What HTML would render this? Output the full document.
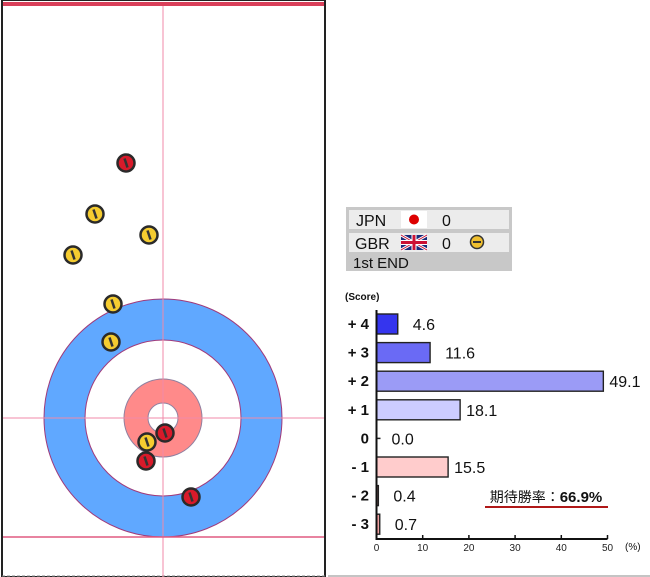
<!DOCTYPE html>
<html><head><meta charset="utf-8">
<style>
body{margin:0;width:650px;height:577px;overflow:hidden;background:#fff;font-family:"Liberation Sans","Noto Sans CJK JP",sans-serif;}
svg{position:absolute;left:0;top:0;}
</style></head>
<body>
<svg width="650" height="577">
  <g>
    <rect x="2" y="0" width="323" height="577" fill="#fff" stroke="#222" stroke-width="2"/>
    <line x1="2" y1="576" x2="325" y2="576" stroke="#888" stroke-dasharray="3,2"/>
    <line x1="328" y1="576" x2="650" y2="576" stroke="#888"/>
    <rect x="3" y="2" width="321" height="4" fill="#d9405a"/>
    <circle cx="163" cy="418" r="119" fill="#60a8ff" stroke="#a03a7a" stroke-width="1"/>
    <circle cx="163" cy="418" r="78" fill="#fff" stroke="#a03a7a" stroke-width="1"/>
    <circle cx="163" cy="418" r="39" fill="#ff8a8a" stroke="#9080a0" stroke-width="1"/>
    <circle cx="163" cy="418" r="15" fill="#fff" stroke="#9080a0" stroke-width="1"/>
    <line x1="163" y1="6" x2="163" y2="577" stroke="#f08aa8" stroke-width="1"/>
    <line x1="3" y1="418" x2="324" y2="418" stroke="#f08aa8" stroke-width="1"/>
    <line x1="3" y1="537" x2="324" y2="537" stroke="#e05a80" stroke-width="1.5"/>
    <g id="stones"></g>
  </g>
  <g>
    <rect x="346" y="207" width="166" height="64" fill="#c8c8c8"/>
    <rect x="349" y="210" width="160" height="19" fill="#ececec"/>
    <rect x="349" y="233" width="160" height="19" fill="#ececec"/>
    <text x="356" y="226" font-size="16" fill="#111">JPN</text>
    <rect x="401" y="211" width="26" height="17" fill="#fff"/>
    <circle cx="414" cy="219.5" r="5" fill="#dd0000"/>
    <text x="442" y="226" font-size="16" fill="#111">0</text>
    <text x="355" y="249" font-size="16" fill="#111">GBR</text>
    <g>
      <rect x="401" y="235" width="26" height="15" fill="#1a2a7a"/>
      <path d="M401,235L427,250M427,235L401,250" stroke="#fff" stroke-width="3"/>
      <path d="M401,235L427,250M427,235L401,250" stroke="#cc1133" stroke-width="1"/>
      <path d="M414,235V250M401,242.5H427" stroke="#fff" stroke-width="5"/>
      <path d="M414,235V250M401,242.5H427" stroke="#cc1133" stroke-width="3"/>
    </g>
    <text x="442" y="249" font-size="16" fill="#111">0</text>
    <circle cx="477" cy="242" r="6.5" fill="#f0c030" stroke="#333" stroke-width="1.5"/>
    <line x1="473" y1="242" x2="481" y2="242" stroke="#333" stroke-width="2"/>
    <text x="353" y="268" font-size="15" fill="#111">1st END</text>
  </g>
  <g id="chart">
    <text x="345" y="300" font-size="10" font-weight="bold" fill="#111">(Score)</text>
    <text x="625" y="550" font-size="10" fill="#111">(%)</text>
    <text x="546" y="502" font-size="14" text-anchor="middle" fill="#111">期待勝率：<tspan font-weight="bold" font-size="15">66.9%</tspan></text>
    <line x1="485" y1="507" x2="608" y2="507" stroke="#b01818" stroke-width="2"/>
  </g>
</svg>
<script>
const stoneX=[126,95,149,73,113,111,165,147,146,191];
const stoneY=[163,214,235,255,304,342,433,442,461,497];
const stoneTeam=["red","yellow","yellow","yellow","yellow","yellow","red","yellow","red","red"];
const categories=["+ 4","+ 3","+ 2","+ 1","0","- 1","- 2","- 3"];
const values=[4.6,11.6,49.1,18.1,0.0,15.5,0.4,0.7];
const valueLabels=["4.6","11.6","49.1","18.1","0.0","15.5","0.4","0.7"];
const barColors=["#3535ee","#6a6af5","#9b9bf6","#ccccff","#fff","#ffcccc","#f0a0a0","#f0a0a0"];
const xTicks=[0,10,20,30,40,50];
const NS="http://www.w3.org/2000/svg";
function mk(t,a,p){const e=document.createElementNS(NS,t);for(const k in a)e.setAttribute(k,a[k]);p.appendChild(e);return e;}
const sg=document.getElementById('stones');
stoneX.forEach((x,i)=>{const y=stoneY[i];
  const g=mk('g',{},sg);
  
  
  mk('circle',{cx:x,cy:y,r:8.5,fill:stoneTeam[i]=="red"?"#d81a2a":"#f5cc30",stroke:"#2a2a2a","stroke-width":2.5},g);
  mk('line',{x1:x-1.5,y1:y-4.5,x2:x+1.5,y2:y+4.5,stroke:"#333","stroke-width":2.5},g);
});
const ch=document.getElementById('chart');
const x0=376.5,sc=4.62,yTop=324,step=28.6,bh=20,base=539;
const xs=v=>x0+v*sc, ys=i=>yTop+i*step;
categories.forEach((c,i)=>{const y=ys(i);
  const t=mk('text',{x:369,y:y+5,"font-size":15,"font-weight":"bold","text-anchor":"end",fill:"#111"},ch);t.textContent=c;
  
  
  if(values[i]>0){const r=mk('rect',{x:x0,y:y-bh/2,width:values[i]*sc,height:bh,fill:barColors[i],stroke:"#222","stroke-width":1.4},ch);
    
    }
  else mk('line',{x1:x0,y1:y,x2:x0+4,y2:y,stroke:"#222","stroke-width":1.5},ch);
  const lx=values[i]>15?xs(values[i])+6:Math.max(xs(values[i]),x0)+15;
  const v=mk('text',{x:lx,y:y+6,"font-size":16,fill:"#111"},ch);v.textContent=valueLabels[i];
  
  
});
const ax=mk('path',{d:`M${x0},${310}V${base}H${xs(50)}`,fill:"none",stroke:"#111","stroke-width":2},ch);


xTicks.forEach(v=>{mk('line',{x1:xs(v),y1:base,x2:xs(v),y2:base-4,stroke:"#111","stroke-width":1.5},ch);
  const t=mk('text',{x:xs(v),y:base+12,"font-size":10,"text-anchor":"middle",fill:"#222"},ch);t.textContent=v;
  
  });
</script>
</body></html>
